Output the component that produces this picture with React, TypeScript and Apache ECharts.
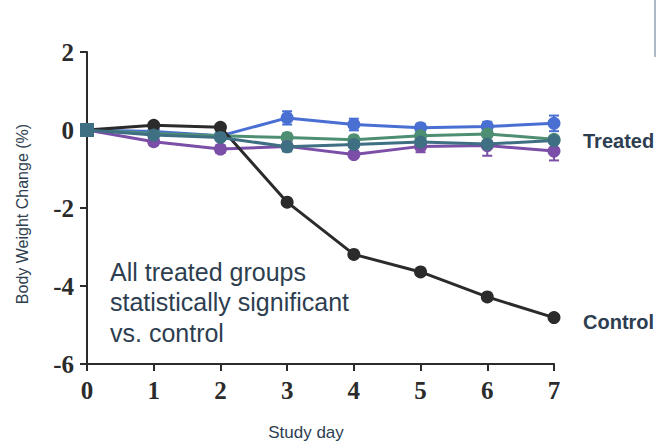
import React, { useEffect, useRef } from "react";
import * as echarts from "echarts";

const days = [0, 1, 2, 3, 4, 5, 6, 7];
const controlVals = [0, 0.12, 0.07, -1.85, -3.19, -3.64, -4.28, -4.81];
const blueVals = [0, -0.04, -0.15, 0.31, 0.14, 0.06, 0.09, 0.17];
const greenVals = [0, -0.09, -0.15, -0.19, -0.25, -0.15, -0.1, -0.24];
const tealVals = [0, -0.13, -0.19, -0.43, -0.37, -0.31, -0.36, -0.27];
const purpleVals = [0, -0.3, -0.49, -0.42, -0.63, -0.42, -0.4, -0.54];

const blueErr = [0, 0.05, 0.05, 0.17, 0.15, 0.1, 0.12, 0.2];
const greenErr = [0, 0.05, 0.05, 0.1, 0.1, 0.08, 0.08, 0.08];
const tealErr = [0, 0.05, 0.05, 0.12, 0.08, 0.08, 0.08, 0.08];
const purpleErr = [0, 0.08, 0.1, 0.1, 0.08, 0.15, 0.26, 0.24];

const COLORS = {
  control: "#2b2b2b",
  blue: "#4a6fd3",
  green: "#4e8f74",
  teal: "#3f6f82",
  purple: "#7b4fa7",
};
const TEXT = "#2d3e50";

function lineSeries(name: string, vals: number[], color: string, z: number, firstSquare = false) {
  return {
    name,
    type: "line",
    data: days.map((d, i) =>
      firstSquare && i === 0
        ? { value: [d, vals[i]], symbol: "rect", symbolSize: 14 }
        : [d, vals[i]]
    ),
    symbol: "circle",
    symbolSize: 13,
    lineStyle: { color, width: 3 },
    itemStyle: { color },
    z,
  };
}

function errSeries(vals: number[], errs: number[], color: string, z: number) {
  return {
    type: "custom",
    z,
    data: days.map((d, i) => [d, vals[i] - errs[i], vals[i] + errs[i]]),
    renderItem: (params: any, api: any) => {
      const x = api.value(0);
      const lo = api.coord([x, api.value(1)]);
      const hi = api.coord([x, api.value(2)]);
      const w = 5;
      const style = { stroke: color, lineWidth: 2 };
      return {
        type: "group",
        children: [
          { type: "line", shape: { x1: lo[0], y1: lo[1], x2: hi[0], y2: hi[1] }, style },
          { type: "line", shape: { x1: lo[0] - w, y1: lo[1], x2: lo[0] + w, y2: lo[1] }, style },
          { type: "line", shape: { x1: hi[0] - w, y1: hi[1], x2: hi[0] + w, y2: hi[1] }, style },
        ],
      };
    },
  };
}

export default function App() {
  const ref = useRef<HTMLDivElement>(null);
  useEffect(() => {
    if (!ref.current) return;
    const chart = echarts.init(ref.current, undefined, { renderer: "svg" });
    const axisLine = { show: true, onZero: false, lineStyle: { color: "#2b2b2b", width: 2 } };
    const labelFont = {
      fontFamily: "Liberation Serif",
      fontWeight: "bold",
      fontSize: 25,
      color: "#2b2b2b",
    };
    chart.setOption({
      animation: false,
      backgroundColor: "#ffffff",
      grid: { left: 87, right: 102, top: 52, bottom: 81 },
      xAxis: {
        type: "value",
        min: 0,
        max: 7,
        interval: 1,
        axisLine,
        axisTick: { show: true, length: 7, lineStyle: { color: "#2b2b2b", width: 2 } },
        axisLabel: { ...labelFont, margin: 14 },
        splitLine: { show: false },
      },
      yAxis: {
        type: "value",
        min: -6,
        max: 2,
        interval: 2,
        axisLine,
        axisTick: { show: true, length: 7, lineStyle: { color: "#2b2b2b", width: 2 } },
        axisLabel: { ...labelFont, margin: 13, formatter: (v: number) => String(v) },
        splitLine: { show: false },
      },
      series: [
        errSeries(blueVals, blueErr, COLORS.blue, 2),
        errSeries(greenVals, greenErr, COLORS.green, 2),
        errSeries(purpleVals, purpleErr, COLORS.purple, 2),
        errSeries(tealVals, tealErr, COLORS.teal, 2),
        lineSeries("Blue", blueVals, COLORS.blue, 3),
        lineSeries("Green", greenVals, COLORS.green, 4),
        lineSeries("Purple", purpleVals, COLORS.purple, 5),
        lineSeries("Control", controlVals, COLORS.control, 6),
        lineSeries("Teal", tealVals, COLORS.teal, 7, true),
      ],
      graphic: [
        {
          type: "text",
          x: 306,
          y: 432,
          style: {
            text: "Study day",
            fontFamily: "Liberation Sans",
            fontSize: 17,
            fill: TEXT,
            align: "center",
            verticalAlign: "middle",
          },
        },
        {
          type: "text",
          x: 22,
          y: 214,
          rotation: Math.PI / 2,
          style: {
            text: "Body Weight Change (%)",
            fontFamily: "Liberation Sans",
            fontSize: 16,
            fill: TEXT,
            align: "center",
            verticalAlign: "middle",
          },
        },
        {
          type: "text",
          x: 583,
          y: 141,
          style: {
            text: "Treated",
            fontFamily: "Liberation Sans",
            fontWeight: "bold",
            fontSize: 20,
            fill: TEXT,
            verticalAlign: "middle",
          },
        },
        {
          type: "text",
          x: 583,
          y: 322,
          style: {
            text: "Control",
            fontFamily: "Liberation Sans",
            fontWeight: "bold",
            fontSize: 20,
            fill: TEXT,
            verticalAlign: "middle",
          },
        },
        {
          type: "text",
          x: 110,
          y: 272,
          style: {
            text: "All treated groups",
            fontFamily: "Liberation Sans",
            fontSize: 25,
            fill: TEXT,
            verticalAlign: "middle",
          },
        },
        {
          type: "text",
          x: 110,
          y: 302,
          style: {
            text: "statistically significant",
            fontFamily: "Liberation Sans",
            fontSize: 25,
            fill: TEXT,
            verticalAlign: "middle",
          },
        },
        {
          type: "text",
          x: 110,
          y: 333,
          style: {
            text: "vs. control",
            fontFamily: "Liberation Sans",
            fontSize: 25,
            fill: TEXT,
            verticalAlign: "middle",
          },
        },
        {
          type: "line",
          shape: { x1: 655, y1: 0, x2: 655, y2: 57 },
          style: { stroke: "#8fa3b3", lineWidth: 1.5 },
        },
      ],
    });
    return () => chart.dispose();
  }, []);
  return <div ref={ref} style={{ width: 656, height: 445, position: "absolute", left: 0, top: 0 }} />;
}
